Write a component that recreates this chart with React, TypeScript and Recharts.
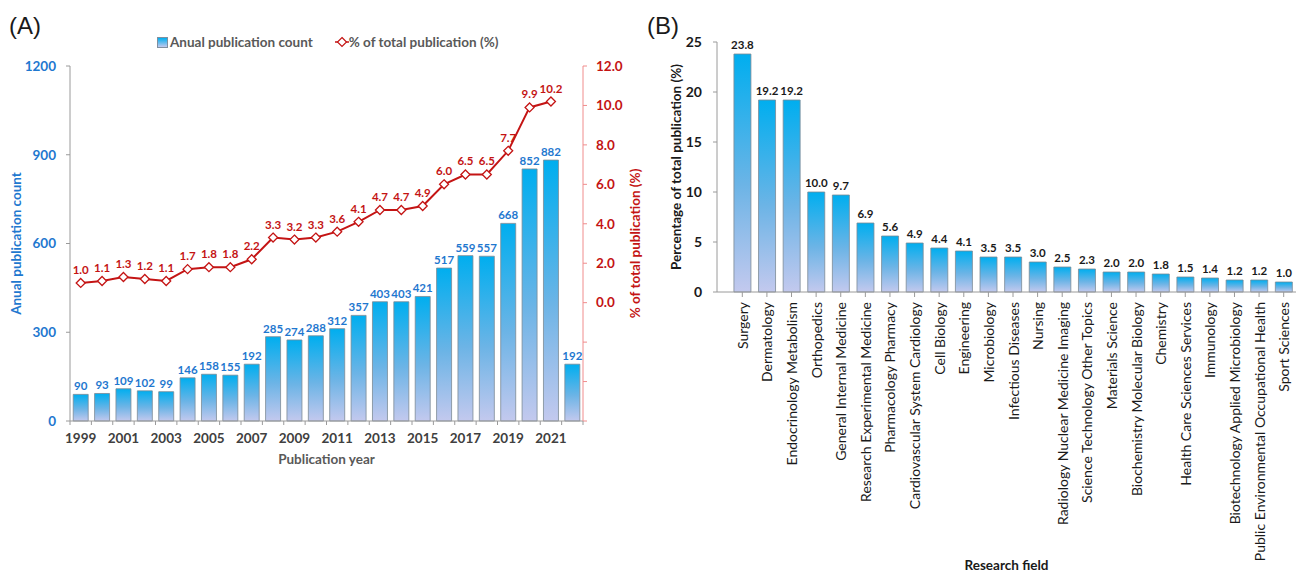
import React from 'react';
import {
  ComposedChart,
  BarChart,
  Bar,
  Line,
  XAxis,
  YAxis,
  LabelList,
} from 'recharts';

// Panel A: yearly output and share of the total
const years = [
  '1999', '2000', '2001', '2002', '2003', '2004', '2005', '2006',
  '2007', '2008', '2009', '2010', '2011', '2012', '2013', '2014',
  '2015', '2016', '2017', '2018', '2019', '2020', '2021', '2022',
];
const annualCounts = [
  90, 93, 109, 102, 99, 146, 158, 155, 192, 285, 274, 288,
  312, 357, 403, 403, 421, 517, 559, 557, 668, 852, 882, 192,
];
const sharePercent: (number | null)[] = [
  1.0, 1.1, 1.3, 1.2, 1.1, 1.7, 1.8, 1.8, 2.2, 3.3, 3.2, 3.3,
  3.6, 4.1, 4.7, 4.7, 4.9, 6.0, 6.5, 6.5, 7.7, 9.9, 10.2, null,
];
const countTicks = [0, 300, 600, 900, 1200];
const shareTicks = [-6, -4, -2, 0, 2, 4, 6, 8, 10, 12];

// Panel B: research fields
const fields = [
  'Surgery',
  'Dermatology',
  'Endocrinology Metabolism',
  'Orthopedics',
  'General Internal Medicine',
  'Research Experimental Medicine',
  'Pharmacology Pharmacy',
  'Cardiovascular System Cardiology',
  'Cell Biology',
  'Engineering',
  'Microbiology',
  'Infectious Diseases',
  'Nursing',
  'Radiology Nuclear Medicine Imaging',
  'Science Technology Other Topics',
  'Materials Science',
  'Biochemistry Molecular Biology',
  'Chemistry',
  'Health Care Sciences Services',
  'Immunology',
  'Biotechnology Applied Microbiology',
  'Public Environmental Occupational Health',
  'Sport Sciences',
];
const fieldShares = [
  23.8, 19.2, 19.2, 10.0, 9.7, 6.9, 5.6, 4.9, 4.4, 4.1, 3.5, 3.5,
  3.0, 2.5, 2.3, 2.0, 2.0, 1.8, 1.5, 1.4, 1.2, 1.2, 1.0,
];
const fieldTicks = [0, 5, 10, 15, 20, 25];

const yearRows = years.map((year, i) => ({
  year,
  count: annualCounts[i],
  share: sharePercent[i],
}));
const fieldRows = fields.map((field, i) => ({ field, share: fieldShares[i] }));

const FONT = 'Lato, "DejaVu Sans", sans-serif';
const BLUE_TEXT = '#1f78cf';
const RED = '#c41414';
const AXIS_GRAY = '#9a9a9a';

// plot area width of panel A, used for the between-category tick marks
const PLOT_A_WIDTH = 513;
const STEP_A = PLOT_A_WIDTH / years.length;

const YearTick = (props: any) => {
  const { x, y, payload, index } = props;
  const half = STEP_A / 2;
  const axisY = y - 12;
  return (
    <g>
      <line x1={x - half} x2={x - half} y1={axisY} y2={axisY + 4} stroke={AXIS_GRAY} />
      {index === years.length - 1 && (
        <line x1={x + half} x2={x + half} y1={axisY} y2={axisY + 4} stroke={AXIS_GRAY} />
      )}
      {index % 2 === 0 && (
        <text
          x={x}
          y={y}
          dy="0.71em"
          textAnchor="middle"
          fill="#404040"
          fontSize={13.5}
          fontWeight={700}
          fontFamily={FONT}
        >
          {payload.value}
        </text>
      )}
    </g>
  );
};

const FieldTick = (props: any) => {
  const { x, y, payload } = props;
  return (
    <g transform={`translate(${x},${y})`}>
      <text
        transform="rotate(-90)"
        textAnchor="end"
        dominantBaseline="central"
        fill="#1a1a1a"
        fontSize={14}
        fontFamily={FONT}
      >
        {payload.value}
      </text>
    </g>
  );
};

const Diamond = (props: any) => {
  const { cx, cy, value } = props;
  if (value == null || cx == null || cy == null) return <g />;
  const r = 4.5;
  return (
    <path
      d={`M${cx},${cy - r} L${cx + r},${cy} L${cx},${cy + r} L${cx - r},${cy} Z`}
      fill="#fff"
      stroke={RED}
      strokeWidth={1.3}
    />
  );
};

const ShareLabel = (props: any) => {
  const { x, y, value } = props;
  if (value == null) return null;
  return (
    <text
      x={x}
      y={y - 9}
      textAnchor="middle"
      fill={RED}
      fontSize={11.5}
      fontWeight={700}
      fontFamily={FONT}
    >
      {Number(value).toFixed(1)}
    </text>
  );
};

const barGradient = (id: string) => (
  <defs>
    <linearGradient id={id} x1="0" y1="0" x2="0" y2="1">
      <stop offset="0%" stopColor="#00aeef" />
      <stop offset="55%" stopColor="#6cb4e6" />
      <stop offset="100%" stopColor="#c3c9ee" />
    </linearGradient>
  </defs>
);

const LegendA = () => (
  <div
    style={{
      position: 'absolute',
      left: 157,
      top: 34,
      display: 'flex',
      alignItems: 'center',
      fontFamily: FONT,
      fontWeight: 700,
      fontSize: 13.5,
      color: '#595959',
      whiteSpace: 'nowrap',
    }}
  >
    <span
      style={{
        display: 'inline-block',
        width: 9,
        height: 9,
        marginRight: 2,
        border: '1px solid #7f8fa0',
        background: 'linear-gradient(#00aeef, #c3c9ee)',
      }}
    />
    <span>Anual publication count</span>
    <svg width={14} height={12} style={{ marginLeft: 22 }}>
      <line x1={0} x2={14} y1={6} y2={6} stroke={RED} strokeWidth={1.5} />
      <path d="M7,1.5 L11.5,6 L7,10.5 L2.5,6 Z" fill="#fff" stroke={RED} strokeWidth={1.2} />
    </svg>
    <span>% of total publication (%)</span>
  </div>
);

const panelTitle: React.CSSProperties = {
  position: 'absolute',
  top: 12,
  fontFamily: '"Liberation Sans", Arial, sans-serif',
  fontSize: 24,
  color: '#1a1a1a',
};

export default function App() {
  return (
    <div
      style={{
        position: 'absolute',
        left: 0,
        top: 0,
        width: 1299,
        height: 574,
        background: '#fff',
        overflow: 'hidden',
      }}
    >
      <div style={{ ...panelTitle, left: 9 }}>(A)</div>
      <div style={{ ...panelTitle, left: 647 }}>(B)</div>
      <LegendA />

      <div style={{ position: 'absolute', left: 0, top: 0 }}>
        <ComposedChart
          width={650}
          height={470}
          data={yearRows}
          margin={{ top: 66, right: 7, bottom: 5, left: 0 }}
          barCategoryGap="15%"
        >
          {barGradient('countFill')}
          <XAxis
            dataKey="year"
            interval={0}
            height={44}
            stroke={AXIS_GRAY}
            tickLine={false}
            tickSize={4}
            tickMargin={8}
            tick={(p: any) => <YearTick {...p} />}
            label={{
              value: 'Publication year',
              position: 'insideBottom',
              offset: 1,
              fill: '#595959',
              fontSize: 13.5,
              fontWeight: 700,
              fontFamily: FONT,
            }}
          />
          <YAxis
            yAxisId="count"
            width={70}
            domain={[0, 1200]}
            ticks={countTicks}
            interval={0}
            stroke={AXIS_GRAY}
            tickSize={4}
            tickMargin={10}
            tick={{ fill: BLUE_TEXT, fontSize: 13.5, fontWeight: 700, fontFamily: FONT }}
            label={{
              value: 'Anual publication count',
              angle: -90,
              position: 'insideLeft',
              offset: 16,
              fill: BLUE_TEXT,
              fontSize: 13.5,
              fontWeight: 700,
              fontFamily: FONT,
              style: { textAnchor: 'middle' },
            }}
          />
          <YAxis
            yAxisId="share"
            orientation="right"
            width={60}
            domain={[-6, 12]}
            ticks={shareTicks}
            interval={0}
            stroke="#f08c8c"
            tickSize={4}
            tickMargin={9}
            tickFormatter={(v: number) => (v >= 0 ? v.toFixed(1) : '')}
            tick={{ fill: RED, fontSize: 13.5, fontWeight: 700, fontFamily: FONT }}
            label={{
              value: '% of total publication (%)',
              angle: -90,
              position: 'insideRight',
              offset: 8,
              fill: RED,
              fontSize: 13.5,
              fontWeight: 700,
              fontFamily: FONT,
              style: { textAnchor: 'middle' },
            }}
          />
          <Bar
            yAxisId="count"
            dataKey="count"
            fill="url(#countFill)"
            stroke="#7c8a96"
            strokeWidth={0.8}
            isAnimationActive={false}
          >
            <LabelList
              dataKey="count"
              position="top"
              offset={4}
              fill={BLUE_TEXT}
              fontSize={11.5}
              fontWeight={700}
              fontFamily={FONT}
            />
          </Bar>
          <Line
            yAxisId="share"
            dataKey="share"
            stroke={RED}
            strokeWidth={2}
            dot={(p: any) => <Diamond key={`d-${p.index}`} {...p} />}
            activeDot={false}
            connectNulls={false}
            isAnimationActive={false}
          >
            <LabelList dataKey="share" content={(p: any) => <ShareLabel {...p} />} />
          </Line>
        </ComposedChart>
      </div>

      <div style={{ position: 'absolute', left: 650, top: 0 }}>
        <BarChart
          width={649}
          height={574}
          data={fieldRows}
          margin={{ top: 42, right: 3, bottom: 0, left: 7 }}
          barCategoryGap="16%"
        >
          {barGradient('fieldFill')}
          <XAxis
            dataKey="field"
            interval={0}
            height={282}
            padding={{ left: 13, right: 0 }}
            stroke={AXIS_GRAY}
            tickSize={5}
            tickMargin={5}
            tick={(p: any) => <FieldTick {...p} />}
            label={{
              value: 'Research field',
              position: 'insideBottom',
              offset: 4,
              fill: '#1a1a1a',
              fontSize: 13.5,
              fontWeight: 700,
              fontFamily: FONT,
            }}
          />
          <YAxis
            width={60}
            domain={[0, 25]}
            ticks={fieldTicks}
            interval={0}
            stroke={AXIS_GRAY}
            tickSize={4}
            tickMargin={11}
            tick={{ fill: '#1a1a1a', fontSize: 14, fontWeight: 700, fontFamily: FONT }}
            label={{
              value: 'Percentage of total publication (%)',
              angle: -90,
              position: 'insideLeft',
              offset: 19,
              fill: '#1a1a1a',
              fontSize: 13.5,
              fontWeight: 700,
              fontFamily: FONT,
              style: { textAnchor: 'middle' },
            }}
          />
          <Bar
            dataKey="share"
            fill="url(#fieldFill)"
            stroke="#7c8a96"
            strokeWidth={0.8}
            isAnimationActive={false}
          >
            <LabelList
              dataKey="share"
              position="top"
              offset={5}
              formatter={(v: any) => Number(v).toFixed(1)}
              fill="#1a1a1a"
              fontSize={11.5}
              fontWeight={700}
              fontFamily={FONT}
            />
          </Bar>
        </BarChart>
      </div>
    </div>
  );
}
